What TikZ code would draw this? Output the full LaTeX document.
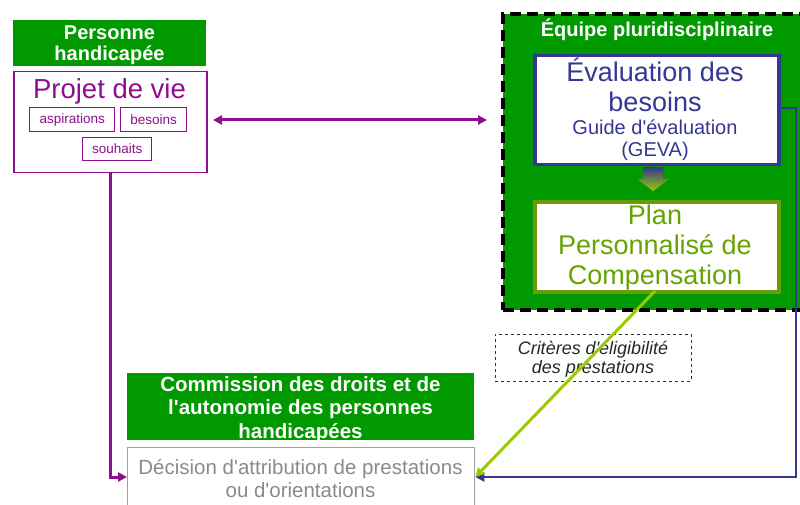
\documentclass[tikz,border=0pt]{standalone}
\usepackage{fontspec}
\setmainfont{Liberation Sans}[Ligatures=TeXOff]
\usetikzlibrary{arrows.meta}
\definecolor{hdgreen}{HTML}{009900}
\definecolor{violetline}{HTML}{8E0E8E}
\definecolor{evalblue}{HTML}{363694}
\definecolor{planolive}{HTML}{6B9A0A}
\definecolor{plantext}{HTML}{66A300}
\definecolor{limeline}{HTML}{99CC00}
\definecolor{decgray}{HTML}{8A8A8A}
\begin{document}
\begin{tikzpicture}[x=1pt,y=-1pt,
  header/.style={fill=hdgreen,draw=none,text=white,font=\bfseries,align=center,inner sep=0pt},
  tag/.style={draw=violetline,line width=1.3pt,text=violetline,font=\fontsize{13.5}{15}\selectfont,inner sep=0pt,anchor=north west},
  tip/.style={-{Triangle[length=9pt,width=9pt]}},
  link/.style={line width=3pt,tip}]
\useasboundingbox (0,0) rectangle (800,505);

% --- Personne handicapée ---
\node[header,minimum width=193pt,minimum height=46pt,anchor=north west] (ph) at (13,20) {};
\node[text=white,align=center,font=\bfseries\fontsize{20}{21}\selectfont] (pht) at (109.5,45) {Personne\\handicapée};
\node[draw=violetline,line width=1.5pt,minimum width=193pt,minimum height=101pt,anchor=north west,inner sep=0pt] (pv) at (13,71) {};
\node[text=violetline,font=\fontsize{27.5}{30}\selectfont,anchor=center] (pvt) at (109.5,91) {Projet de vie};
\node[tag,minimum width=85pt,minimum height=24pt] (asp) at (29,107) {aspirations};
\node[tag,minimum width=66pt,minimum height=24pt] (bes) at (120,107) {besoins};
\node[tag,minimum width=69pt,minimum height=23pt] (sou) at (82,137) {souhaits};

% --- Équipe pluridisciplinaire ---
\node[fill=hdgreen,draw=black,line width=4pt,dash pattern=on 11pt off 6pt,
  minimum width=303pt,minimum height=296pt,anchor=north west,inner sep=0pt] (eq) at (501,12) {};
\node[text=white,font=\bfseries\fontsize{20}{22}\selectfont] (eqt) at (657,30) {Équipe pluridisciplinaire};
\node[fill=white,draw=evalblue,line width=3.5pt,minimum width=244pt,minimum height=109pt,anchor=north west,inner sep=0pt] (ev) at (533,54) {};
\node[text=evalblue,align=center,font=\fontsize{27}{30}\selectfont] (evt) at (655,85)
  {Évaluation des\\besoins};
\node[text=evalblue,align=center,font=\fontsize{20}{22}\selectfont] (evg) at (655,140)
  {Guide d'évaluation\\(GEVA)};
\node[fill=white,draw=planolive,line width=4pt,minimum width=244pt,minimum height=90pt,anchor=north west,inner sep=0pt] (pl) at (533,200) {};
\node[text=plantext,align=center,font=\fontsize{27}{30}\selectfont] (plt) at (655,248)
  {Plan\\Personnalisé de\\Compensation};

% gradient arrow from evaluation to plan
\shade[top color=evalblue,bottom color=limeline]
  (643,167) -- (663,167) -- (663,179) -- (669,179) -- (653,191) -- (637,179) -- (643,179) -- cycle;

% --- Critères ---
\node[draw=black!80,dashed,line width=0.8pt,minimum width=196pt,minimum height=47pt,anchor=north west,inner sep=0pt] (cr) at (495,334) {};
\node[align=center,font=\itshape\fontsize{18}{19}\selectfont,text=black!85] (crt) at (593,359.5)
  {Critères d'éligibilité\\des prestations};

% --- Commission ---
\node[header,minimum width=347pt,minimum height=67pt,anchor=north west] (cdaph) at (127,373) {};
\node[text=white,align=center,font=\bfseries\fontsize{20.5}{23.5}\selectfont] (cdapht) at (300.5,409.5)
  {Commission des droits et de\\l'autonomie des personnes\\handicapées};
\node[draw=decgray!80,line width=1.3pt,minimum width=347pt,minimum height=62pt,anchor=north west,inner sep=0pt] (dec) at (127,447) {};
\node[text=decgray,align=center,font=\fontsize{20.5}{23}\selectfont] (dect) at (300.5,478.5)
  {Décision d'attribution de prestations\\ou d'orientations};

% --- connectors ---
\coordinate (pvl) at (487,120);
\coordinate (pvr) at (213,120);
\draw[violetline,line width=3pt,{Triangle[length=9pt,width=9pt]}-{Triangle[length=9pt,width=9pt]}] (pvr) -- (pvl);
\coordinate (pvs) at (110,172);
\draw[link,violetline] (pvs) -- (110,477) -- (dec.west |- 0,477);
\draw[link,evalblue,line width=2.5pt] (ev.east |- 0,108) -- (796,108) -- (796,477) -- (dec.east |- 0,477);
\draw[link,limeline] (655,291) -- (dec.east |- 0,477);
\end{tikzpicture}
\end{document}
